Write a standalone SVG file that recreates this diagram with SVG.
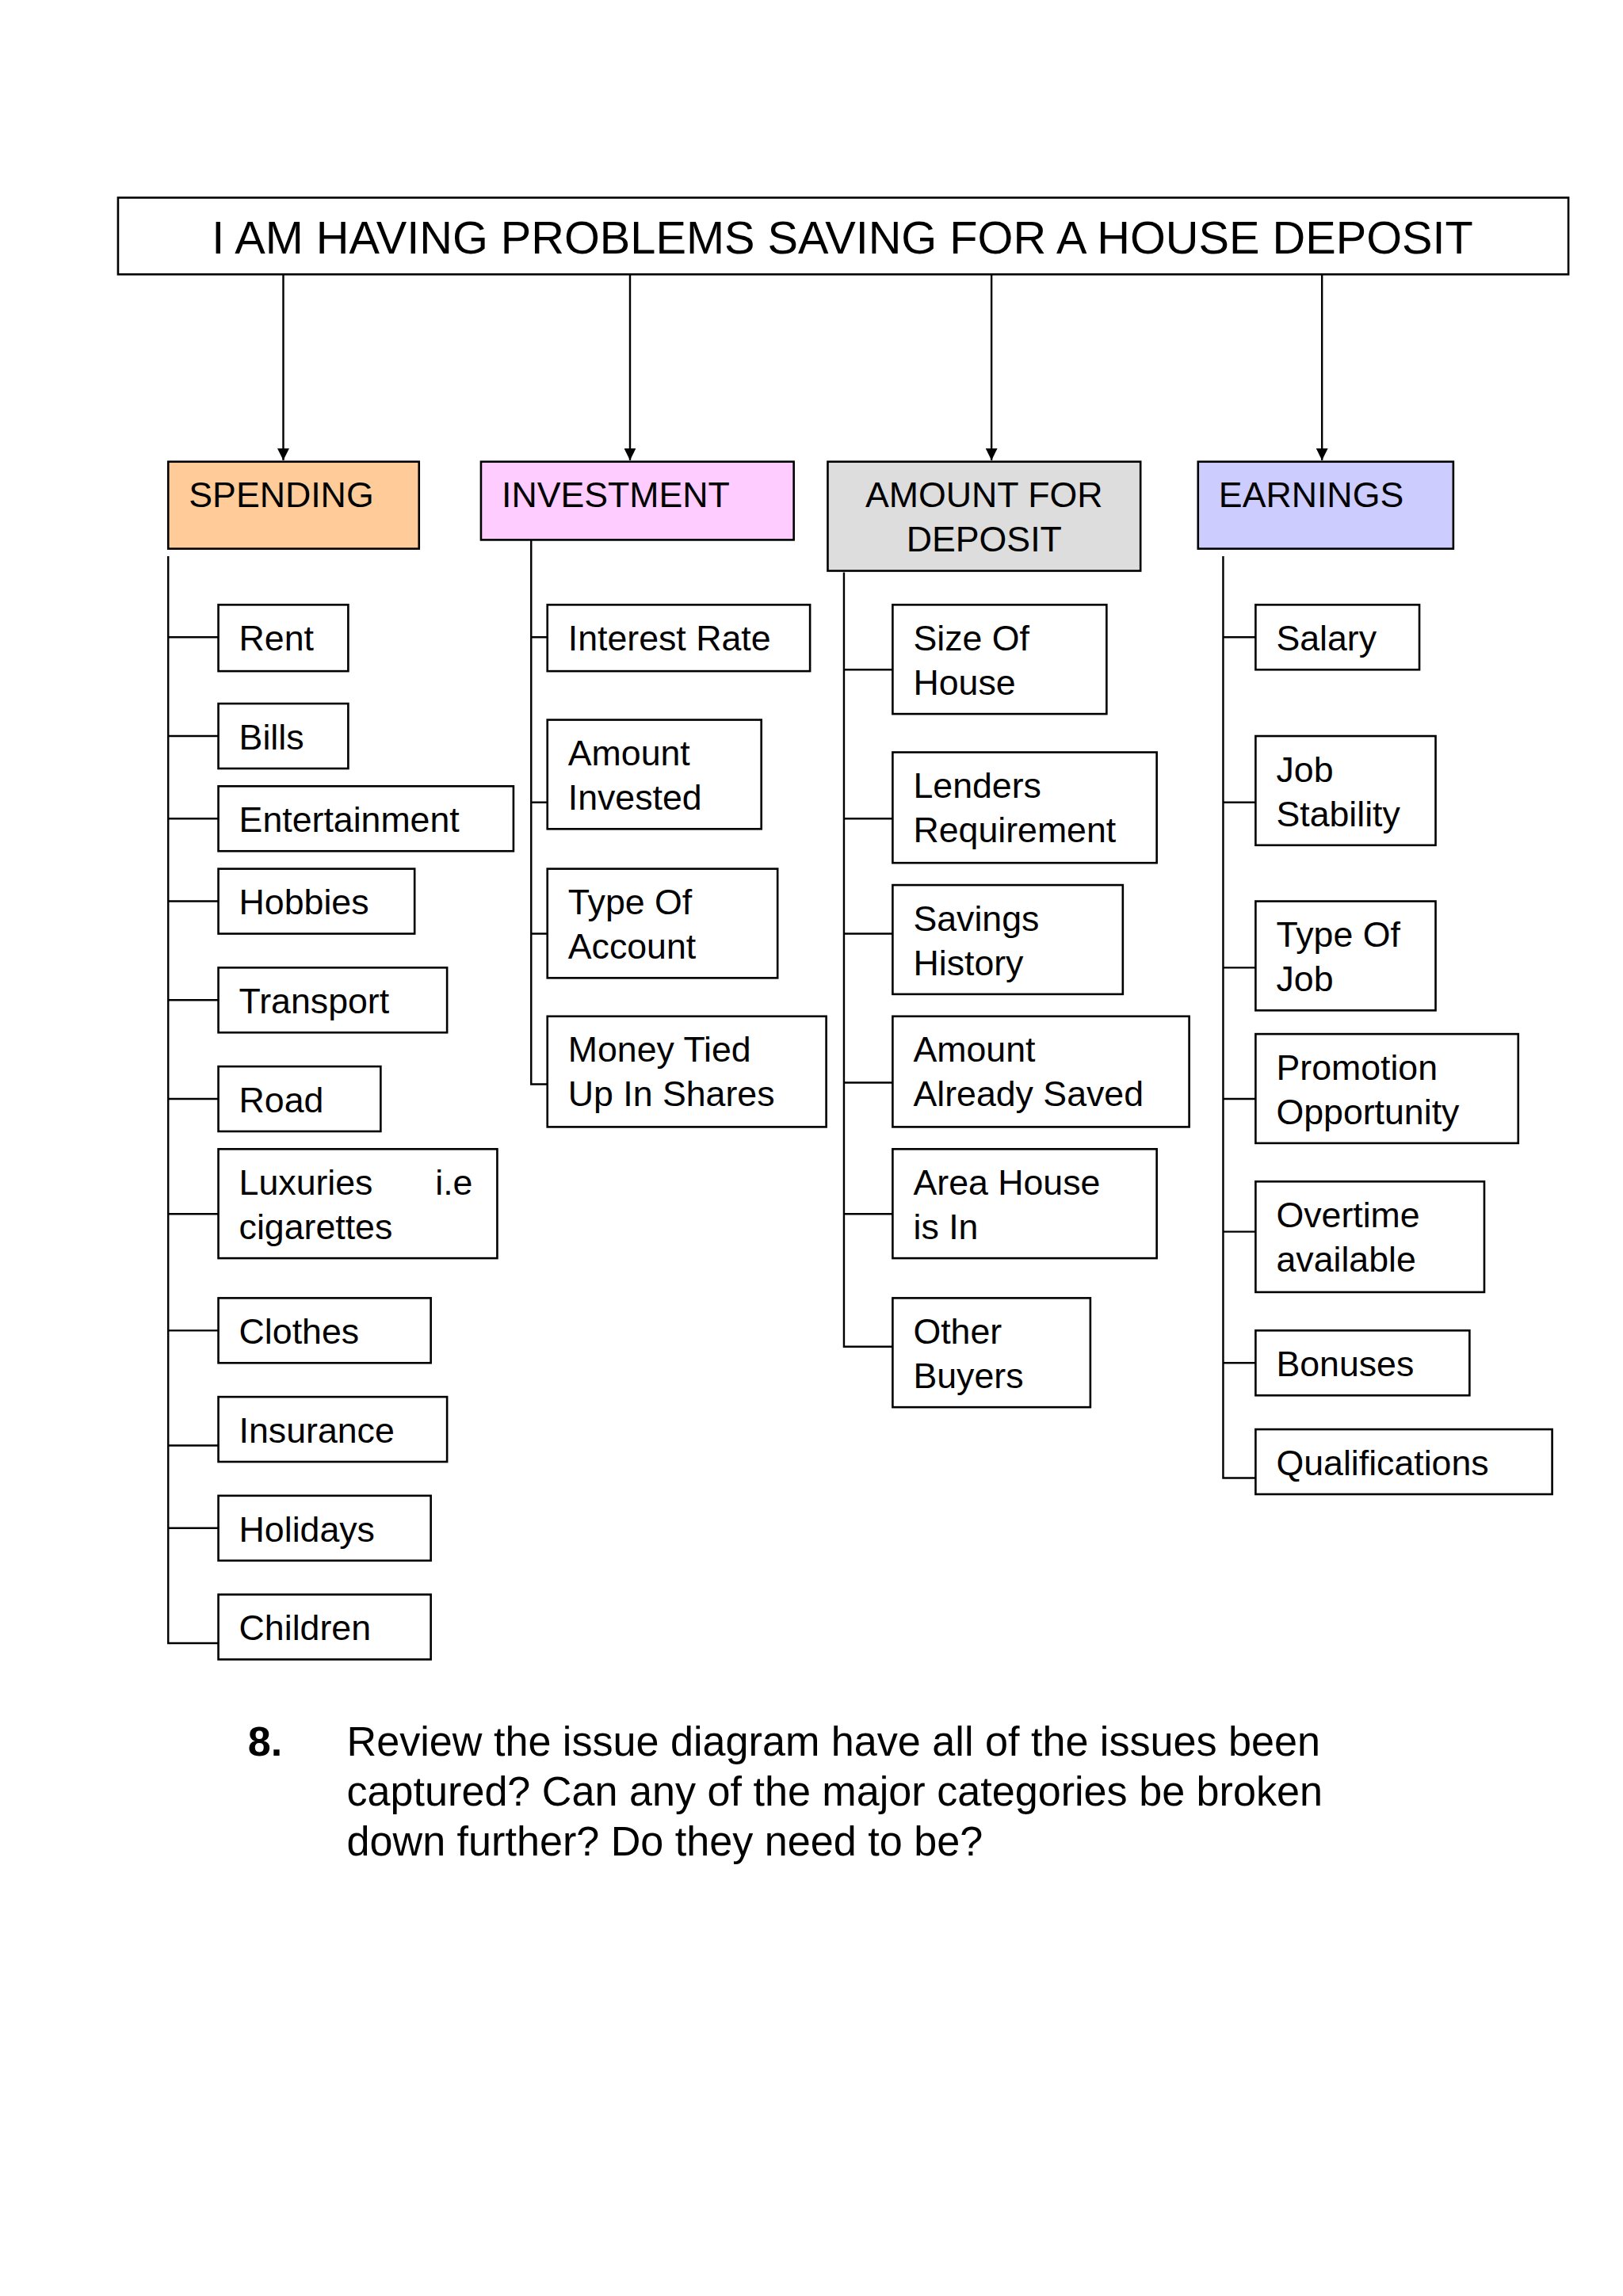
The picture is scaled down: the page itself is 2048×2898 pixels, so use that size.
<svg xmlns="http://www.w3.org/2000/svg" width="2048" height="2898" viewBox="0 0 2048 2898">
<defs>
<marker id="ah" viewBox="0 0 10 10" refX="10" refY="5" markerWidth="8" markerHeight="8" markerUnits="userSpaceOnUse" orient="auto"><path d="M0,0 L10,5 L0,10 z" fill="#000"/></marker>
<style>
rect{fill:#fff;stroke:#000;stroke-width:1.4}
text{font-family:"Liberation Sans",Arial,sans-serif;font-size:24px;fill:#000}
.c line,.c path{stroke:#000;stroke-width:1.3;fill:none}
</style>
</defs>
<rect x="0" y="0" width="2048" height="2898" style="stroke:none"/>
<g transform="scale(1.8618)">
<g id="title"><rect x="80" y="134" width="983" height="52"/><text x="571" y="172" text-anchor="middle" style="font-size:31px">I AM HAVING PROBLEMS SAVING FOR A HOUSE DEPOSIT</text></g>
<g id="spending"><rect x="114" y="313" width="170" height="59" style="fill:#FFCC99"/><text x="128" y="344">SPENDING</text></g>
<g id="investment"><rect x="326" y="313" width="212" height="53" style="fill:#FFCCFF"/><text x="340" y="344">INVESTMENT</text></g>
<g id="amount"><rect x="561" y="313" width="212" height="74" style="fill:#DDDDDD"/><text x="667" y="344" text-anchor="middle">AMOUNT FOR</text><text x="667" y="374" text-anchor="middle">DEPOSIT</text></g>
<g id="earnings"><rect x="812" y="313" width="173" height="59" style="fill:#CCCCFF"/><text x="826" y="344">EARNINGS</text></g>

<g id="s1"><rect x="148" y="410" width="88" height="45"/><text x="162" y="441">Rent</text></g>
<g id="s2"><rect x="148" y="477" width="88" height="44"/><text x="162" y="508">Bills</text></g>
<g id="s3"><rect x="148" y="533" width="200" height="44"/><text x="162" y="564">Entertainment</text></g>
<g id="s4"><rect x="148" y="589" width="133" height="44"/><text x="162" y="620">Hobbies</text></g>
<g id="s5"><rect x="148" y="656" width="155" height="44"/><text x="162" y="687">Transport</text></g>
<g id="s6"><rect x="148" y="723" width="110" height="44"/><text x="162" y="754">Road</text></g>
<g id="s7"><rect x="148" y="779" width="189" height="74"/><text x="162" y="810">Luxuries</text><text x="295" y="810">i.e</text><text x="162" y="840">cigarettes</text></g>
<g id="s8"><rect x="148" y="880" width="144" height="44"/><text x="162" y="911">Clothes</text></g>
<g id="s9"><rect x="148" y="947" width="155" height="44"/><text x="162" y="978">Insurance</text></g>
<g id="s10"><rect x="148" y="1014" width="144" height="44"/><text x="162" y="1045">Holidays</text></g>
<g id="s11"><rect x="148" y="1081" width="144" height="44"/><text x="162" y="1112">Children</text></g>

<g id="i1"><rect x="371" y="410" width="178" height="45"/><text x="385" y="441">Interest Rate</text></g>
<g id="i2"><rect x="371" y="488" width="145" height="74"/><text x="385" y="519">Amount</text><text x="385" y="549">Invested</text></g>
<g id="i3"><rect x="371" y="589" width="156" height="74"/><text x="385" y="620">Type Of</text><text x="385" y="650">Account</text></g>
<g id="i4"><rect x="371" y="689" width="189" height="75"/><text x="385" y="720">Money Tied</text><text x="385" y="750">Up In Shares</text></g>

<g id="a1"><rect x="605" y="410" width="145" height="74"/><text x="619" y="441">Size Of</text><text x="619" y="471">House</text></g>
<g id="a2"><rect x="605" y="510" width="179" height="75"/><text x="619" y="541">Lenders</text><text x="619" y="571">Requirement</text></g>
<g id="a3"><rect x="605" y="600" width="156" height="74"/><text x="619" y="631">Savings</text><text x="619" y="661">History</text></g>
<g id="a4"><rect x="605" y="689" width="201" height="75"/><text x="619" y="720">Amount</text><text x="619" y="750">Already Saved</text></g>
<g id="a5"><rect x="605" y="779" width="179" height="74"/><text x="619" y="810">Area House</text><text x="619" y="840">is In</text></g>
<g id="a6"><rect x="605" y="880" width="134" height="74"/><text x="619" y="911">Other</text><text x="619" y="941">Buyers</text></g>

<g id="e1"><rect x="851" y="410" width="111" height="44"/><text x="865" y="441">Salary</text></g>
<g id="e2"><rect x="851" y="499" width="122" height="74"/><text x="865" y="530">Job</text><text x="865" y="560">Stability</text></g>
<g id="e3"><rect x="851" y="611" width="122" height="74"/><text x="865" y="642">Type Of</text><text x="865" y="672">Job</text></g>
<g id="e4"><rect x="851" y="701" width="178" height="74"/><text x="865" y="732">Promotion</text><text x="865" y="762">Opportunity</text></g>
<g id="e5"><rect x="851" y="801" width="155" height="75"/><text x="865" y="832">Overtime</text><text x="865" y="862">available</text></g>
<g id="e6"><rect x="851" y="902" width="145" height="44"/><text x="865" y="933">Bonuses</text></g>
<g id="e7"><rect x="851" y="969" width="201" height="44"/><text x="865" y="1000">Qualifications</text></g>

<g class="c" id="connectors">
<line x1="192" y1="186" x2="192" y2="312" marker-end="url(#ah)"/>
<line x1="427" y1="186" x2="427" y2="312" marker-end="url(#ah)"/>
<line x1="672" y1="186" x2="672" y2="312" marker-end="url(#ah)"/>
<line x1="896" y1="186" x2="896" y2="312" marker-end="url(#ah)"/>
<path d="M114,377 V1114 H148 M114,432 H148 M114,499 H148 M114,555 H148 M114,611 H148 M114,678 H148 M114,745 H148 M114,823 H148 M114,902 H148 M114,980 H148 M114,1036 H148"/>
<path d="M360,366 V735 H371 M360,432 H371 M360,544 H371 M360,633 H371"/>
<path d="M572,388 V913 H605 M572,454 H605 M572,555 H605 M572,633 H605 M572,734 H605 M572,823 H605"/>
<path d="M829,377 V1002 H851 M829,432 H851 M829,544 H851 M829,656 H851 M829,745 H851 M829,835 H851 M829,924 H851"/>
</g>

<g id="note">
<text x="168" y="1190" style="font-size:28px;font-weight:bold">8.</text>
<text x="235" y="1190" style="font-size:28px">Review the issue diagram have all of the issues been</text>
<text x="235" y="1224" style="font-size:28px">captured? Can any of the major categories be broken</text>
<text x="235" y="1258" style="font-size:28px">down further? Do they need to be?</text>
</g>
</g>
</svg>
